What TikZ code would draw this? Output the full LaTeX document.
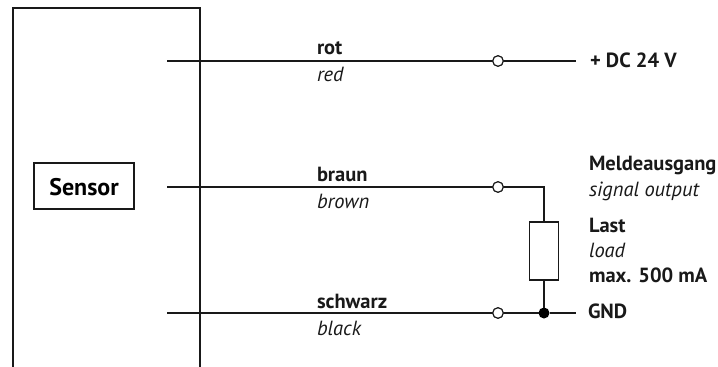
\documentclass[tikz,border=0pt]{standalone}
\usepackage{fontspec}
\setmainfont{PT Sans}
\tikzset{
  wire/.style={draw=black!90,line width=1.3pt},
  frame/.style={draw=black!90,line width=1.3pt},
  term/.style={circle,draw=black!90,fill=white,line width=1.1pt,minimum size=10.5pt,inner sep=0pt,outer sep=0pt},
  joint/.style={circle,fill=black,minimum size=11pt,inner sep=0pt,outer sep=0pt},
  lab/.style={anchor=base west,inner sep=0pt,outer sep=0pt,text=black!90,font=\fontsize{20.5}{22}\selectfont},
  bl/.style={lab,font=\fontsize{20.5}{22}\selectfont\bfseries},
  it/.style={lab,font=\fontsize{20.5}{22}\selectfont\itshape}
}
\begin{document}
\begin{tikzpicture}[x=1pt,y=-1pt]
\useasboundingbox (0,0) rectangle (718,367);
\draw[frame] (13,367) -- (13,8) -- (200,8) -- (200,367);
\node[draw=black!90,line width=1.2pt,minimum width=100pt,minimum height=46pt,inner sep=0pt,text height=18pt,text depth=0pt,font=\fontsize{24}{26}\selectfont\bfseries] (sensor) at (84,186) {Sensor};
% wires
\coordinate (a0) at (167,61);
\coordinate (b0) at (167,187);
\coordinate (c0) at (167,313);
\coordinate (a1) at (576,61);
\coordinate (c1) at (576,313);
\coordinate (bend) at (544,187);
\node[term] (ta) at (498,61) {};
\node[term] (tb) at (498,187) {};
\node[term] (tc) at (498,313) {};
\node[joint] (j) at (544,313) {};
\node[draw=black!90,line width=1.1pt,minimum width=28.5pt,minimum height=58pt,inner sep=0pt] (load) at (544,251) {};
\draw[wire] (a0) -- (ta) -- (a1);
\draw[wire] (b0) -- (tb) -- (bend) -- (load.north);
\draw[wire] (load.south) -- (j);
\draw[wire] (c0) -- (tc) -- (j) -- (c1);
% redraw terminals over wires
\node[term] at (ta) {};
\node[term] at (tb) {};
\node[term] at (tc) {};
% labels
\node[bl] (l1) at (317,54) {rot};
\node[it] (l2) at (317,81) {red};
\node[bl] (l3) at (317,181) {braun};
\node[it] (l4) at (317,208) {brown};
\node[bl] (l5) at (317,308) {schwarz};
\node[it] (l6) at (317,335) {black};
\node[bl] (l7) at (590,67) {+ DC 24 V};
\node[bl] (l8) at (589,170) {Meldeausgang};
\node[it] (l9) at (589,196) {signal output};
\node[bl] (l10) at (589,232) {Last};
\node[it] (l11) at (589,257) {load};
\node[bl] (l12) at (589,282) {max. 500 mA};
\node[bl] (l13) at (588,318) {GND};
\end{tikzpicture}
\end{document}
